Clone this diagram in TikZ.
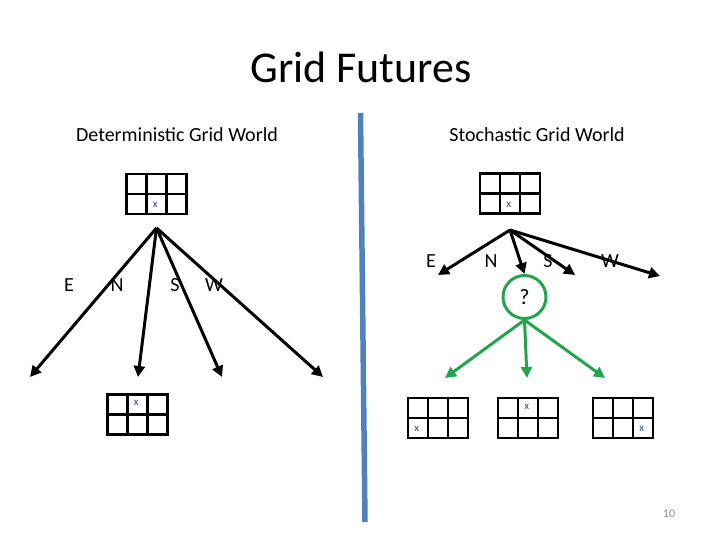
\documentclass[tikz,border=0pt]{standalone}
\usepackage{fontspec}
\setmainfont{Carlito}
\usepackage{tikz}
\usetikzlibrary{arrows.meta, positioning, calc}
\definecolor{slideblue}{RGB}{79,129,189}
\definecolor{futuregreen}{RGB}{35,165,80}
\definecolor{agentblue}{RGB}{60,60,140}
\tikzstyle{grid} = [rectangle, draw=black, line width=2.6pt, minimum width=60pt, minimum height=40pt, inner sep=0pt,
  path picture={\draw[line width=2.6pt] (path picture bounding box.west) -- (path picture bounding box.east);
    \draw[line width=2.6pt] ([xshift=20pt]path picture bounding box.south west) -- ([xshift=20pt]path picture bounding box.north west);
    \draw[line width=2.6pt] ([xshift=40pt]path picture bounding box.south west) -- ([xshift=40pt]path picture bounding box.north west);}]
\tikzstyle{agent} = [text=agentblue, font=\fontsize{11}{12}\selectfont, inner sep=0pt]
\tikzstyle{move} = [font=\fontsize{20}{22}\selectfont, inner sep=1pt]
\tikzstyle{arrow} = [line width=3pt, -{Triangle[length=11pt,width=11pt]}]
\tikzstyle{greenarrow} = [line width=3pt, draw=futuregreen, -{Triangle[length=11pt,width=11pt]}, color=futuregreen]

\begin{document}
\begin{tikzpicture}[x=1pt, y=-1pt]
	\useasboundingbox (0,0) rectangle (720,540);

	\node (title) at (361,67) {\fontsize{44}{48}\selectfont Grid Futures};
	\node (det) at (177,135) {\fontsize{20}{22}\selectfont Deterministic Grid World};
	\node (sto) at (537,135) {\fontsize{20}{22}\selectfont Stochastic Grid World};
	\draw [slideblue, line width=5.5pt] (360.5,113) -- (365,522);

	% deterministic side
	\node (dstart) [grid] at (156.5,194) {};
	\node [agent] at ($(dstart.south west)+(30,-10)$) {x};
	\coordinate (droot) at (156.5,228);
	\coordinate (dE) at (30,377);
	\coordinate (dN) at (138,377);
	\coordinate (dS) at (222,377);
	\coordinate (dW) at (323,377);
	\draw [arrow] (droot) -- (dE);
	\draw [arrow] (droot) -- (dN);
	\draw [arrow] (droot) -- (dS);
	\draw [arrow] (droot) -- (dW);
	\node [move] at (69,285) {E};
	\node [move] at (117,285) {N};
	\node [move] at (175,285) {S};
	\node [move] at (214,285) {W};
	\node (dnext) [grid] at (137.5,414.5) {};
	\node [agent] at ($(dnext.north west)+(30,10)$) {x};

	% stochastic side
	\node (sstart) [grid] at (510,193.5) {};
	\node [agent] at ($(sstart.south west)+(30,-10)$) {x};
	\coordinate (sroot) at (510,230);
	\node (chance) [circle, draw=futuregreen, line width=3pt, minimum size=43pt, inner sep=0pt,
	  font=\fontsize{22}{24}\selectfont] at (524.5,297) {?};
	\coordinate (sE) at (438,275);
	\coordinate (sS) at (575,275);
	\coordinate (sW) at (660,276);
	\node [move] at (431,261) {E};
	\node [move] at (491,261) {N};
	\node [move] at (548,261) {S};
	\node [move] at (610,261) {W};
	\draw [arrow] (sroot) -- (sE);
	\draw [arrow] (sroot) -- (chance.north);
	\draw [arrow] (sroot) -- (sS);
	\draw [arrow] (sroot) -- (sW);
	\coordinate (gL) at (445,378);
	\coordinate (gM) at (527,378);
	\coordinate (gR) at (605,378);
	\draw [greenarrow] (chance.south) -- (gL);
	\draw [greenarrow] (chance.south) -- (gM);
	\draw [greenarrow] (chance.south) -- (gR);
	\node (left) [grid] at (438,418) {};
	\node [agent] at ($(left.south west)+(10,-10)$) {x};
	\node (mid) [grid] at (528,418) {};
	\node [agent] at ($(mid.north west)+(30,10)$) {x};
	\node (right) [grid] at (623,418) {};
	\node [agent] at ($(right.south west)+(50,-10)$) {x};

	\node (page) [text=black!45, font=\fontsize{12}{14}\selectfont] at (669,514) {10};
\end{tikzpicture}
\end{document}
